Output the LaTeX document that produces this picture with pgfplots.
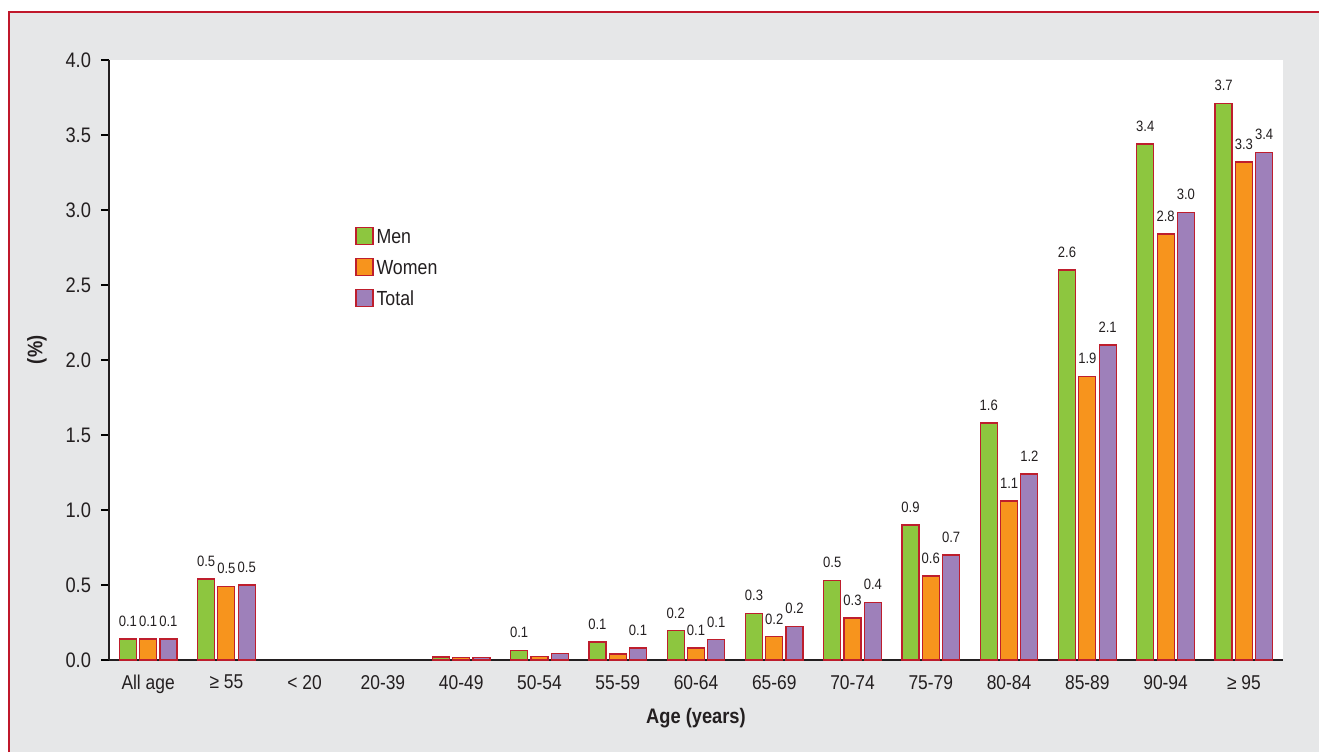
\documentclass[border=0pt]{standalone}
\usepackage{fontspec}
\setmainfont{Liberation Sans}[FakeStretch=0.87]
\usepackage{pgfplots}
\pgfplotsset{compat=1.18}

\definecolor{menG}{HTML}{8DC63F}
\definecolor{womenO}{HTML}{F7941D}
\definecolor{totalP}{HTML}{9E80BA}
\definecolor{edgeR}{HTML}{BE1E2D}
\definecolor{frameR}{HTML}{C0182B}
\definecolor{panel}{HTML}{E6E7E8}
\definecolor{ink}{HTML}{231F20}

\begin{document}
\begin{tikzpicture}[x=1pt,y=1pt]
% page and grey panel with its red frame
\useasboundingbox (-54.5,-46) rectangle (605,330);
\fill[white] (-54.5,-46) rectangle (605,330);
\fill[panel] (-50,-46) rectangle (605,324);
\draw[frameR, line width=1.3pt] (-50,-46) -- (-50,324) -- (605,324);

\begin{axis}[
  at={(0,0)}, anchor=south west,
  scale only axis, width=587pt, height=300pt,
  xmin=-0.5, xmax=14.5, ymin=0, ymax=4,
  clip=false,
  axis background/.style={fill=white},
  axis x line*=bottom, axis y line*=left,
  axis line style={ink, line width=1pt},
  tick align=outside,
  major tick length=4pt, minor tick length=4pt,
  ytick={0,0.5,1,1.5,2,2.5,3,3.5,4},
  ytick style={black, line width=1.4pt},
  yticklabel style={/pgf/number format/.cd, fixed, fixed zerofill, precision=1, assume math mode=true,
    /tikz/.cd, font=\fontsize{10.5}{12}\selectfont, text=ink, xshift=-1.5pt},
  xtick={0,...,14},
  xtick style={draw=none},
  minor xtick={-0.5,0.5,1.5,2.5,3.5,4.5,5.5,6.5,7.5,8.5,9.5,10.5,11.5,12.5,13.5,14.5},
  minor x tick style={black, line width=1.4pt},
  xticklabels={All age, ≥ 55, < 20, 20-39, 40-49, 50-54, 55-59, 60-64, 65-69, 70-74, 75-79, 80-84, 85-89, 90-94, ≥ 95},
  xticklabel style={font=\fontsize{10}{12}\selectfont, text=ink},
  xlabel={\bfseries Age (years)},
  ylabel={\bfseries (\%)},
  xlabel style={at={(axis description cs:0.5,-0.0967)}, anchor=center, font=\fontsize{10.5}{12}\selectfont, text=ink},
  ylabel style={at={(axis description cs:-0.0613,0.517)}, anchor=center, font=\fontsize{10.5}{12}\selectfont, text=ink},
  ybar=1.65pt, bar width=8.5pt,
  nodes near coords,
  point meta=explicit symbolic,
  every node near coord/.append style={font=\fontsize{7.5}{9}\selectfont, text=ink, inner sep=2pt, yshift=4pt},
  legend style={at={(axis description cs:0.2095,0.725)}, anchor=north west,
    draw=none, fill=none, inner sep=0pt, row sep=5.2pt,
    font=\fontsize{10.2}{12}\selectfont, text=ink,
    nodes={text height=7.4pt, text depth=0pt, inner sep=1.5pt}},
  legend cell align=left,
  legend image code/.code={\draw[#1, line width=0.6pt] (0pt,-4.25pt) rectangle (8.5pt,4.25pt);},
]
% Men
\addplot[fill=menG, draw=edgeR, line width=0.6pt] coordinates {
  (0,0.14) [0.1] (1,0.54) [0.5] (4,0.02) [] (5,0.065) [0.1] (6,0.12) [0.1]
  (7,0.195) [0.2] (8,0.31) [0.3] (9,0.53) [0.5] (10,0.90) [0.9] (11,1.58) [1.6]
  (12,2.60) [2.6] (13,3.44) [3.4] (14,3.71) [3.7]
};
% Women
\addplot[fill=womenO, draw=edgeR, line width=0.6pt] coordinates {
  (0,0.14) [0.1] (1,0.49) [0.5] (4,0.015) [] (5,0.025) [] (6,0.04) []
  (7,0.08) [0.1] (8,0.155) [0.2] (9,0.28) [0.3] (10,0.56) [0.6] (11,1.06) [1.1]
  (12,1.89) [1.9] (13,2.84) [2.8] (14,3.32) [3.3]
};
% Total
\addplot[fill=totalP, draw=edgeR, line width=0.6pt] coordinates {
  (0,0.14) [0.1] (1,0.50) [0.5] (4,0.015) [] (5,0.045) [] (6,0.08) [0.1]
  (7,0.135) [0.1] (8,0.225) [0.2] (9,0.385) [0.4] (10,0.70) [0.7] (11,1.24) [1.2]
  (12,2.10) [2.1] (13,2.985) [3.0] (14,3.385) [3.4]
};
\legend{Men, Women, Total}
\end{axis}
\end{tikzpicture}
\end{document}
